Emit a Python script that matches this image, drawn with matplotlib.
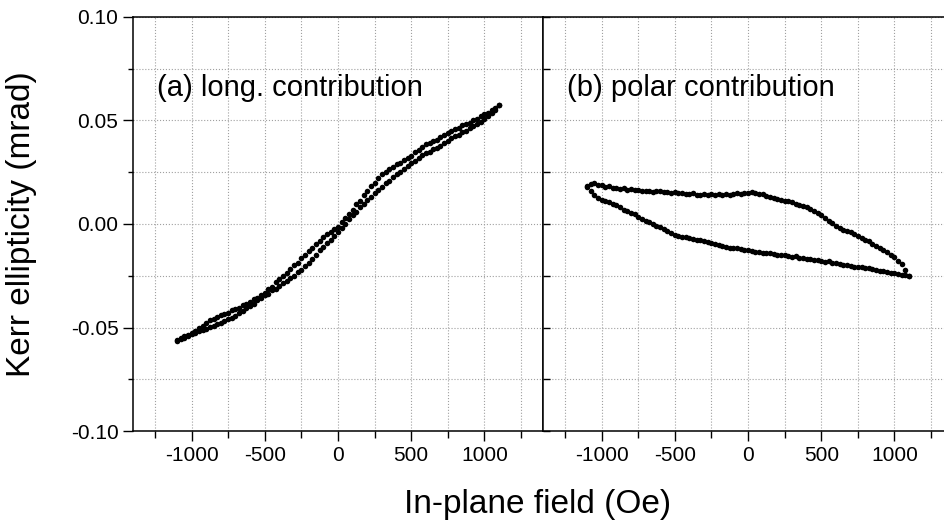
import numpy as np
import matplotlib.pyplot as plt
from matplotlib.ticker import MultipleLocator

plt.rcParams['font.family'] = ['Liberation Sans', 'DejaVu Sans']
plt.rcParams['axes.unicode_minus'] = False

# applied field (Oe), same sweep points for every branch
field = [-1100, -1075, -1050, -1025, -1000, -975, -950, -925, -900, -875,
         -850, -825, -800, -775, -750, -725, -700, -675, -650, -625,
         -600, -575, -550, -525, -500, -475, -450, -425, -400, -375,
         -350, -325, -300, -275, -250, -225, -200, -175, -150, -125,
         -100, -75, -50, -25, 0, 25, 50, 75, 100, 125,
         150, 175, 200, 225, 250, 275, 300, 325, 350, 375,
         400, 425, 450, 475, 500, 525, 550, 575, 600, 625,
         650, 675, 700, 725, 750, 775, 800, 825, 850, 875,
         900, 925, 950, 975, 1000, 1025, 1050, 1075, 1100]

# (a) longitudinal contribution, mrad
long_upper = [-0.0560, -0.0553, -0.0541, -0.0536, -0.0525, -0.0517, -0.0500, -0.0492, -0.0480, -0.0466,
              -0.0460, -0.0447, -0.0440, -0.0434, -0.0429, -0.0415, -0.0410, -0.0404, -0.0391, -0.0386,
              -0.0375, -0.0362, -0.0357, -0.0341, -0.0335, -0.0314, -0.0302, -0.0280, -0.0265, -0.0251,
              -0.0236, -0.0216, -0.0200, -0.0186, -0.0163, -0.0150, -0.0130, -0.0116, -0.0095, -0.0083,
              -0.0065, -0.0050, -0.0040, -0.0024, -0.0015, 0.0008, 0.0030, 0.0047, 0.0070, 0.0095,
              0.0113, 0.0140, 0.0160, 0.0184, 0.0198, 0.0222, 0.0240, 0.0250, 0.0266, 0.0275,
              0.0290, 0.0297, 0.0310, 0.0318, 0.0330, 0.0346, 0.0356, 0.0372, 0.0385, 0.0389,
              0.0400, 0.0408, 0.0420, 0.0428, 0.0441, 0.0448, 0.0460, 0.0465, 0.0476, 0.0481,
              0.0490, 0.0502, 0.0509, 0.0521, 0.0530, 0.0538, 0.0553, 0.0561, 0.0575]
long_lower = [-0.0565, -0.0556, -0.0551, -0.0540, -0.0532, -0.0527, -0.0518, -0.0514, -0.0505, -0.0497,
              -0.0493, -0.0483, -0.0478, -0.0471, -0.0460, -0.0455, -0.0445, -0.0430, -0.0421, -0.0406,
              -0.0395, -0.0385, -0.0368, -0.0358, -0.0345, -0.0336, -0.0321, -0.0313, -0.0300, -0.0286,
              -0.0276, -0.0260, -0.0250, -0.0232, -0.0222, -0.0204, -0.0190, -0.0168, -0.0152, -0.0128,
              -0.0110, -0.0092, -0.0075, -0.0056, -0.0040, -0.0017, 0.0002, 0.0026, 0.0045, 0.0060,
              0.0082, 0.0096, 0.0115, 0.0130, 0.0148, 0.0162, 0.0180, 0.0196, 0.0209, 0.0227,
              0.0240, 0.0252, 0.0268, 0.0280, 0.0295, 0.0306, 0.0320, 0.0331, 0.0345, 0.0350,
              0.0362, 0.0368, 0.0378, 0.0392, 0.0400, 0.0415, 0.0425, 0.0432, 0.0444, 0.0451,
              0.0462, 0.0472, 0.0483, 0.0493, 0.0505, 0.0520, 0.0535, 0.0553, 0.0575]

# (b) polar contribution, mrad
polar_upper = [0.0182, 0.0193, 0.0200, 0.0190, 0.0186, 0.0180, 0.0182, 0.0175, 0.0173, 0.0170,
               0.0172, 0.0166, 0.0167, 0.0163, 0.0166, 0.0160, 0.0161, 0.0159, 0.0155, 0.0160,
               0.0157, 0.0154, 0.0155, 0.0150, 0.0153, 0.0149, 0.0152, 0.0146, 0.0145, 0.0148,
               0.0140, 0.0142, 0.0143, 0.0141, 0.0144, 0.0138, 0.0143, 0.0141, 0.0146, 0.0140,
               0.0145, 0.0148, 0.0147, 0.0151, 0.0150, 0.0153, 0.0152, 0.0146, 0.0144, 0.0137,
               0.0131, 0.0127, 0.0122, 0.0117, 0.0111, 0.0109, 0.0105, 0.0097, 0.0093, 0.0086,
               0.0080, 0.0071, 0.0063, 0.0052, 0.0043, 0.0030, 0.0016, 0.0004, -0.0012, -0.0020,
               -0.0027, -0.0034, -0.0041, -0.0049, -0.0058, -0.0067, -0.0075, -0.0084, -0.0095, -0.0104,
               -0.0114, -0.0125, -0.0137, -0.0149, -0.0160, -0.0178, -0.0195, -0.0222, -0.0251]
polar_lower = [0.0180, 0.0160, 0.0140, 0.0127, 0.0118, 0.0111, 0.0105, 0.0096, 0.0092, 0.0082,
               0.0070, 0.0062, 0.0052, 0.0048, 0.0036, 0.0025, 0.0015, 0.0008, 0.0002, -0.0008,
               -0.0014, -0.0023, -0.0034, -0.0045, -0.0052, -0.0056, -0.0063, -0.0061, -0.0068, -0.0072,
               -0.0075, -0.0078, -0.0082, -0.0086, -0.0093, -0.0097, -0.0100, -0.0107, -0.0113, -0.0117,
               -0.0114, -0.0118, -0.0123, -0.0126, -0.0128, -0.0131, -0.0133, -0.0135, -0.0138, -0.0142,
               -0.0140, -0.0146, -0.0148, -0.0151, -0.0150, -0.0155, -0.0158, -0.0157, -0.0163, -0.0166,
               -0.0170, -0.0168, -0.0175, -0.0176, -0.0179, -0.0183, -0.0181, -0.0188, -0.0187, -0.0193,
               -0.0196, -0.0199, -0.0201, -0.0206, -0.0207, -0.0210, -0.0214, -0.0213, -0.0219, -0.0222,
               -0.0225, -0.0229, -0.0231, -0.0235, -0.0238, -0.0242, -0.0246, -0.0248, -0.0251]

xticks = [-1000, -500, 0, 500, 1000]
xtick_labels = ['-1000', '-500', '0', '500', '1000']
yticks = [-0.10, -0.05, 0.00, 0.05, 0.10]
ytick_labels = ['-0.10', '-0.05', '0.00', '0.05', '0.10']

fig = plt.figure(figsize=(9.45, 5.26), dpi=100)
ax1 = fig.add_axes([0.1407, 0.1806, 0.4339, 0.7871])
ax2 = fig.add_axes([0.5746, 0.1806, 0.4339, 0.7871])

panels = [(ax1, long_upper, long_lower, '(a) long. contribution'),
          (ax2, polar_upper, polar_lower, '(b) polar contribution')]

for ax, yu, yl, label in panels:
    ax.plot(field, yu, 'o', color='black', ms=4, mew=0)
    ax.plot(field, yl, 'o', color='black', ms=4, mew=0)
    ax.set_xlim(-1400, 1400)
    ax.set_ylim(-0.10, 0.10)
    ax.set_xticks(xticks)
    ax.set_xticklabels(xtick_labels)
    ax.xaxis.set_minor_locator(MultipleLocator(250))
    ax.yaxis.set_minor_locator(MultipleLocator(0.025))
    ax.grid(True, which='both', linestyle=':', color='#a0a0a0', linewidth=0.8)
    ax.set_axisbelow(True)
    ax.tick_params(axis='x', which='major', direction='out', length=7, width=1,
                   labelsize=15, pad=4)
    ax.tick_params(axis='x', which='minor', direction='out', length=5, width=1)
    for s in ax.spines.values():
        s.set_linewidth(1.1)
    ax.text(-1235, 0.0657, label, fontsize=21, ha='left', va='center')

ax1.set_yticks(yticks)
ax1.set_yticklabels(ytick_labels)
ax1.tick_params(axis='y', which='major', direction='out', length=7, width=1,
                labelsize=15, pad=3.5)
ax1.tick_params(axis='y', which='minor', direction='out', length=3.5, width=1)

ax2.set_yticks(yticks)
ax2.tick_params(axis='y', which='both', direction='in', length=5, width=1,
                labelleft=False)

fig.text(22 / 945, 0.574, 'Kerr ellipticity (mrad)', fontsize=24,
         rotation=90, ha='center', va='center')
fig.text(0.569, 0.040, 'In-plane field (Oe)', fontsize=24,
         ha='center', va='center')

fig.savefig('out.png', dpi=100)
